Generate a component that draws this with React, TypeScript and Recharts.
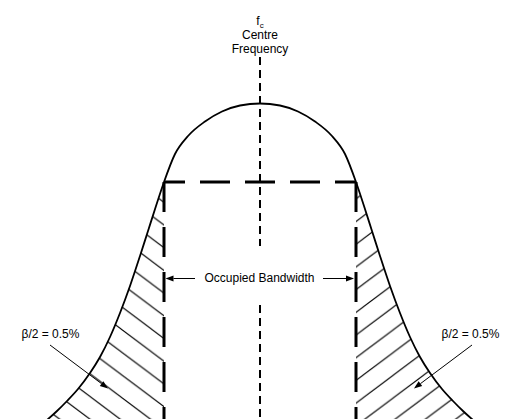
import React from 'react';
import { ComposedChart, Line, Area, XAxis, YAxis, ReferenceLine, ReferenceDot } from 'recharts';

// Frequency offset from the centre frequency (chart units)
const offsets = [-228, -213, -203, -193, -182, -170, -160, -150, -140, -130, -120, -112, -104, -96, -85, -72, -55, -38, -20, 0, 20, 38, 55, 72, 85, 96, 104, 112, 120, 130, 140, 150, 160, 170, 182, 193, 203, 213, 228];
// Spectrum level at each offset (chart units)
const levels = [-13, -1, 8, 18, 30, 46, 62, 82, 106, 133, 163, 188, 213, 237, 265, 283, 297.5, 307.5, 313.5, 315.5, 313.5, 307.5, 297.5, 283, 265, 237, 213, 188, 163, 133, 106, 82, 62, 46, 30, 18, 8, -1, -13];

// Occupied bandwidth edges and level
const bandEdges = [-96, 96];
const bandLevel = 237;

// Centre line extent (two pieces, gap around label)
const centreUpper = [362, 173];
const centreLower = [114, 0];

// Labels
const topLabels = ['Centre', 'Frequency'];
const obwLabel = 'Occupied Bandwidth';
const betaLabel = 'β/2 = 0.5%';

const rows = offsets.map((f, i) => ({
  f,
  level: levels[i],
  leftTail: f <= bandEdges[0] ? levels[i] : null,
  rightTail: f >= bandEdges[1] ? levels[i] : null,
}));

const FONT = '"Liberation Sans", Arial, Helvetica, sans-serif';

// hatch tile: vertical spacing H, slope 0.75
const H = 22.7;
const W = H / 0.75;

const textShape = (content: React.ReactNode, anchor: 'start' | 'middle' | 'end' = 'middle') => (p: any) => (
  <text x={p.cx} y={p.cy} textAnchor={anchor} fontFamily={FONT} fontSize={12} fill="#000">
    {content}
  </text>
);

const arrowShape = (p: any) => {
  const { x1, y1, x2, y2 } = p;
  const dx = x2 - x1;
  const dy = y2 - y1;
  const len = Math.sqrt(dx * dx + dy * dy) || 1;
  const ux = dx / len;
  const uy = dy / len;
  const L = 8;
  const hw = 3;
  const bx = x2 - ux * L;
  const by = y2 - uy * L;
  const pts = `${x2},${y2} ${bx - uy * hw},${by + ux * hw} ${bx + uy * hw},${by - ux * hw}`;
  return (
    <g>
      <line x1={x1} y1={y1} x2={bx} y2={by} stroke="#000" strokeWidth={1} />
      <polygon points={pts} fill="#000" />
    </g>
  );
};

export default function App() {
  return (
    <div style={{ position: 'absolute', left: 0, top: 0, width: 510, height: 419, background: '#fff' }}>
      <ComposedChart width={510} height={419} data={rows} margin={{ top: 0, right: 0, bottom: 0, left: 0 }}>
        <defs>
          <pattern id="hatchL" patternUnits="userSpaceOnUse" x={0} y={11.2} width={W} height={H}>
            <line x1={-W} y1={-H} x2={2 * W} y2={2 * H} stroke="#000" strokeWidth={1.1} />
            <line x1={-W} y1={0} x2={W} y2={2 * H} stroke="#000" strokeWidth={1.1} />
            <line x1={0} y1={-H} x2={2 * W} y2={H} stroke="#000" strokeWidth={1.1} />
          </pattern>
          <pattern id="hatchR" patternUnits="userSpaceOnUse" x={0} y={11.85} width={W} height={H}>
            <line x1={-W} y1={2 * H} x2={2 * W} y2={-H} stroke="#000" strokeWidth={1.1} />
            <line x1={-W} y1={H} x2={W} y2={-H} stroke="#000" strokeWidth={1.1} />
            <line x1={0} y1={2 * H} x2={2 * W} y2={0} stroke="#000" strokeWidth={1.1} />
          </pattern>
        </defs>
        <XAxis type="number" dataKey="f" domain={[-260, 250]} hide allowDataOverflow />
        <YAxis type="number" domain={[0, 419]} hide allowDataOverflow />
        <Area dataKey="leftTail" type="monotone" stroke="none" fill="url(#hatchL)" fillOpacity={1} isAnimationActive={false} />
        <Area dataKey="rightTail" type="monotone" stroke="none" fill="url(#hatchR)" fillOpacity={1} isAnimationActive={false} />
        <Line dataKey="level" type="monotone" stroke="#000" strokeWidth={1.8} dot={false} isAnimationActive={false} />

        {/* centre frequency line */}
        <ReferenceLine segment={[{ x: 0, y: centreUpper[0] }, { x: 0, y: centreUpper[1] }]} stroke="#000" strokeWidth={2} strokeDasharray="8 5" />
        <ReferenceLine segment={[{ x: 0, y: centreLower[0] }, { x: 0, y: centreLower[1] }]} stroke="#000" strokeWidth={2} strokeDasharray="8 5" />

        {/* occupied bandwidth box */}
        <ReferenceLine segment={[{ x: bandEdges[0], y: bandLevel }, { x: bandEdges[1], y: bandLevel }]} stroke="#000" strokeWidth={3} strokeDasharray="30 15" strokeDashoffset={9} />
        <ReferenceLine segment={[{ x: bandEdges[0], y: bandLevel }, { x: bandEdges[0], y: 0 }]} stroke="#000" strokeWidth={3} strokeDasharray="30 15" />
        <ReferenceLine segment={[{ x: bandEdges[1], y: bandLevel }, { x: bandEdges[1], y: 0 }]} stroke="#000" strokeWidth={3} strokeDasharray="30 15" />

        {/* arrows */}
        <ReferenceLine segment={[{ x: -65, y: 140.5 }, { x: -94.5, y: 140.5 }]} shape={arrowShape} />
        <ReferenceLine segment={[{ x: 63, y: 140.5 }, { x: 94, y: 140.5 }]} shape={arrowShape} />
        <ReferenceLine segment={[{ x: -210, y: 74 }, { x: -152, y: 30.5 }]} shape={arrowShape} />
        <ReferenceLine segment={[{ x: 212, y: 74 }, { x: 154, y: 30.5 }]} shape={arrowShape} />

        {/* labels */}
        <ReferenceDot x={0} y={394} r={1} shape={textShape(<>f<tspan fontSize={8} dy={2.5}>c</tspan></>)} />
        <ReferenceDot x={0} y={380} r={1} shape={textShape(topLabels[0])} />
        <ReferenceDot x={0} y={366} r={1} shape={textShape(topLabels[1])} />
        <ReferenceDot x={-0.5} y={137.5} r={1} shape={textShape(obwLabel)} />
        <ReferenceDot x={-238.5} y={81.5} r={1} shape={textShape(betaLabel, 'start')} />
        <ReferenceDot x={181.5} y={81.5} r={1} shape={textShape(betaLabel, 'start')} />
      </ComposedChart>
    </div>
  );
}
